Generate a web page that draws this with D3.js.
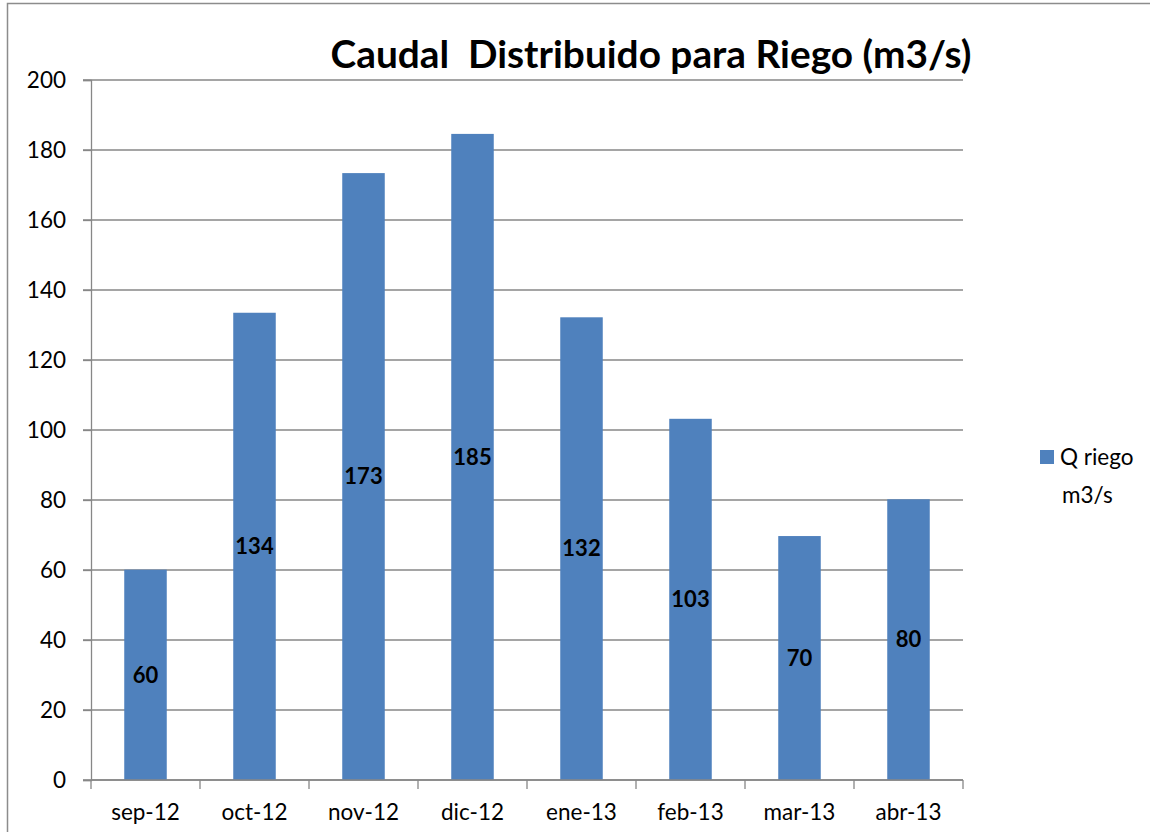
<!DOCTYPE html>
<html>
<head>
<meta charset="utf-8">
<script src="https://cdn.jsdelivr.net/npm/d3@7"></script>
<style>
  body { margin: 0; background: #fff; }
  svg text { font-family: Lato, "Open Sans", sans-serif; }
</style>
</head>
<body>
<div id="chart"></div>
<script>
// data
var months = ["sep-12", "oct-12", "nov-12", "dic-12", "ene-13", "feb-13", "mar-13", "abr-13"];
var qRiego = [60.1, 133.5, 173.4, 184.6, 132.2, 103.2, 69.7, 80.2];
var yTicks = [0, 20, 40, 60, 80, 100, 120, 140, 160, 180, 200];
var seriesName = ["Q riego", "m3/s"];
var title = "Caudal\u00a0\u00a0Distribuido para Riego (m3/s)";

var w = 1150, h = 832;
var plotLeft = 91, plotRight = 963, plotTop = 80, plotBottom = 780;

var svg = d3.select("#chart").append("svg")
	.attr("width", w)
	.attr("height", h);

// outer chart border (cut off at right/bottom like the reference)
svg.append("rect")
	.attr("x", 7.5).attr("y", 3.5)
	.attr("width", w + 20).attr("height", h + 20)
	.attr("fill", "none")
	.attr("stroke", "#8c8c8c")
	.attr("stroke-width", 1.5);

var xScale = d3.scaleBand()
	.domain(months)
	.range([plotLeft, plotRight])
	.paddingInner(0.61)
	.paddingOuter(0.305);

var yScale = d3.scaleLinear()
	.domain([0, 200])
	.range([plotBottom, plotTop]);

// gridlines
svg.append("g")
	.selectAll("line")
	.data(yTicks)
	.enter()
	.append("line")
	.attr("x1", plotLeft - 8)
	.attr("x2", plotRight)
	.attr("y1", function(d) { return yScale(d) })
	.attr("y2", function(d) { return yScale(d) })
	.attr("stroke", "#878787")
	.attr("stroke-width", 1.3);

// y axis
var yAxis = d3.axisLeft(yScale).tickValues(yTicks).tickSize(8).tickPadding(17);
var gy = svg.append("g")
	.attr("transform", "translate(" + plotLeft + ",0)")
	.call(yAxis);
gy.select(".domain").attr("stroke", "#878787").attr("stroke-width", 1.3);
gy.selectAll(".tick line").attr("stroke", "#878787").attr("stroke-width", 1.3);
gy.selectAll(".tick text")
	.attr("font-size", "22.5px")
	.attr("fill", "#000")
	.style("font-family", "Lato, sans-serif");

// bars
svg.selectAll("rect.bar")
	.data(qRiego)
	.enter()
	.append("rect")
	.attr("class", "bar")
	.attr("x", function(d, i) { return xScale(months[i]) })
	.attr("y", function(d) { return yScale(d) })
	.attr("width", xScale.bandwidth())
	.attr("height", function(d) { return yScale(0) - yScale(d) })
	.attr("fill", "#4f81bd");

// x axis: ticks at category boundaries
var boundaries = d3.range(months.length + 1);
var bScale = d3.scaleLinear().domain([0, months.length]).range([plotLeft, plotRight]);
var gx = svg.append("g")
	.attr("transform", "translate(0," + plotBottom + ")");
gx.append("line")
	.attr("x1", plotLeft).attr("x2", plotRight)
	.attr("stroke", "#878787").attr("stroke-width", 1.3);
gx.selectAll("line.tk")
	.data(boundaries)
	.enter()
	.append("line")
	.attr("class", "tk")
	.attr("x1", function(d) { return bScale(d) })
	.attr("x2", function(d) { return bScale(d) })
	.attr("y1", 0).attr("y2", 9)
	.attr("stroke", "#878787").attr("stroke-width", 1.3);
gx.selectAll("text")
	.data(months)
	.enter()
	.append("text")
	.attr("x", function(d) { return xScale(d) + xScale.bandwidth() / 2 })
	.attr("y", 40)
	.attr("text-anchor", "middle")
	.attr("font-size", "22.5px")
	.attr("fill", "#000")
	.text(function(d) { return d });

// value labels in the middle of each bar
svg.selectAll("text.val")
	.data(qRiego)
	.enter()
	.append("text")
	.attr("class", "val")
	.attr("x", function(d, i) { return xScale(months[i]) + xScale.bandwidth() / 2 })
	.attr("y", function(d) { return yScale(d / 2) })
	.attr("dy", "0.35em")
	.attr("text-anchor", "middle")
	.attr("font-size", "22px")
	.attr("font-weight", "bold")
	.attr("fill", "#000")
	.text(function(d) { return d3.format(".0f")(d) });

// title
svg.append("text")
	.attr("x", 651)
	.attr("y", 68)
	.attr("text-anchor", "middle")
	.attr("font-size", "38.8px")
	.attr("font-weight", "bold")
	.attr("fill", "#000")
	.text(title);

// legend
var legend = svg.append("g").attr("transform", "translate(1040,450)");
legend.append("rect")
	.attr("width", 14).attr("height", 14)
	.attr("fill", "#4f81bd");
legend.selectAll("text")
	.data(seriesName)
	.enter()
	.append("text")
	.attr("x", function(d, i) { return i == 0 ? 20 : 22 })
	.attr("y", function(d, i) { return 15 + i * 38 })
	.attr("font-size", "22.5px")
	.attr("fill", "#000")
	.text(function(d) { return d });
</script>
</body>
</html>
